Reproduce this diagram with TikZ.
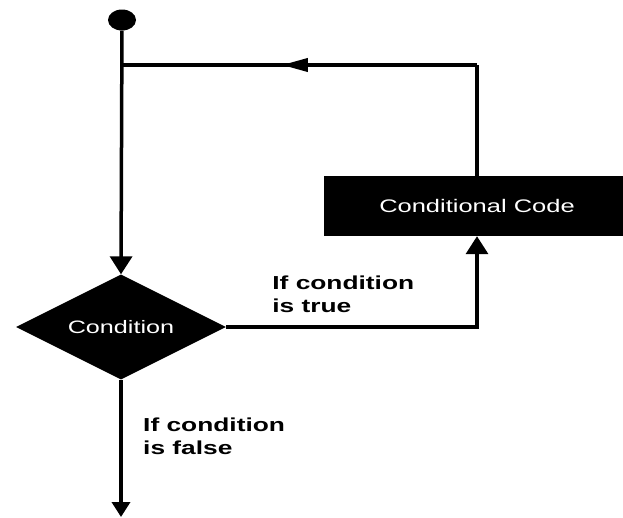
\documentclass[tikz,border=0pt]{standalone}
\usepackage{fontspec}
\usetikzlibrary{positioning, arrows.meta, shapes.geometric, decorations.markings}
\newfontfamily\flowfont[FakeStretch=1.4]{Liberation Sans}

\begin{document}
\begin{tikzpicture}[
  x=1pt, y=-1pt,
  every node/.style={font=\flowfont},
  startdot/.style={ellipse, fill=black, minimum width=28pt, minimum height=21pt, inner sep=0pt},
  cond/.style={diamond, fill=black, aspect=2, minimum width=210pt, minimum height=105pt,
    inner sep=0pt, text=white, font=\flowfont\fontsize{18}{22}\selectfont},
  codebox/.style={rectangle, fill=black, minimum width=306pt, minimum height=60pt,
    inner sep=0pt, text=white, font=\flowfont\fontsize{18.2}{22}\selectfont},
  blabel/.style={font=\flowfont\bfseries\fontsize{18.8}{23}\selectfont, align=left, inner sep=0pt},
  flow/.style={line width=3.5pt},
  arr/.style={flow, -{Triangle[length=18pt, width=22pt]}},
  midarr/.style={flow, postaction={decorate}, decoration={markings,
    mark=at position 0.55 with {\arrow{Triangle[length=26pt, width=13pt]}}}},
]
\useasboundingbox (0,0) rectangle (623,517);

% Nodes
\node[startdot] (start) at (122,20) {};
\node[cond] (test) at (121,327) {Condition};
\node[codebox] (code) at (477,206) {Conditional Code};
\coordinate (loopR) at (477,65);
\coordinate (loopL) at (122,65);
\coordinate (exit) at (121,517);

% Labels
\node[blabel, above right=14pt and 46pt of test.east] (truelbl) {If condition\\is true};
\node[blabel, below right=38pt and 22pt of test.south] (falselbl) {If condition\\is false};

% Arrows
\draw[arr] (start) -- (test.north);
\draw[arr] (test.east) -| (code.south);
\draw[flow] (code.north) -- (loopR);
\draw[midarr] (loopR) -- (loopL);
\draw[arr, -{Triangle[length=15pt, width=18pt]}] (test.south) -- (exit);

\end{tikzpicture}
\end{document}
